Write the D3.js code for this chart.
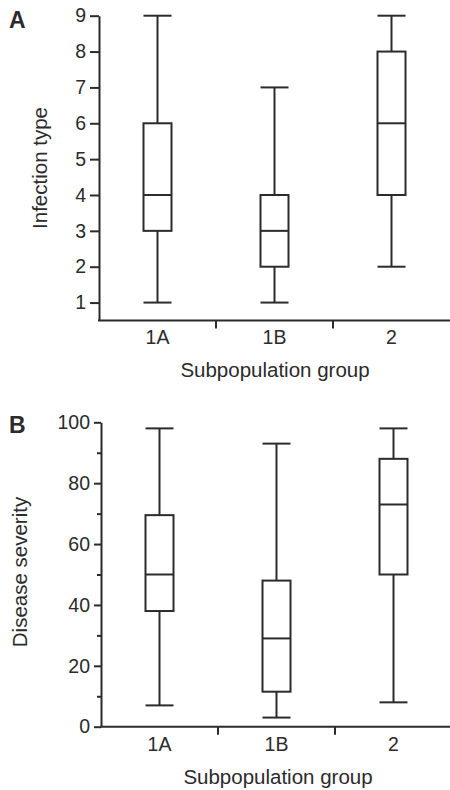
<!DOCTYPE html>
<html>
<head>
<meta charset="utf-8">
<script src="https://cdn.jsdelivr.net/npm/d3@7"></script>
<style>
    body { margin: 0; background: #fff; }
    text { font-family: "Liberation Sans", Arial, sans-serif; fill: #2b2b2b; }
    .axis path, .axis line, .x-line, .x-tick { stroke: #2b2b2b; stroke-width: 2; fill: none; }
    .box rect, .box line { stroke: #2b2b2b; stroke-width: 2; fill: none; }
</style>
</head>
<body>
<div id="chart"></div>
<script>
// subpopulation groups
const groups = ["1A", "1B", "2"];

// panel A - infection type (box stats per group)
const infectionMin = [1, 1, 2];
const infectionQ1 = [3, 2, 4];
const infectionMedian = [4, 3, 6];
const infectionQ3 = [6, 4, 8];
const infectionMax = [9, 7, 9];
const infectionTicks = [1, 2, 3, 4, 5, 6, 7, 8, 9];

// panel B - disease severity
const severityMin = [7, 3, 8];
const severityQ1 = [38, 11.5, 50];
const severityMedian = [50, 29, 73];
const severityQ3 = [69.5, 48, 88];
const severityMax = [98, 93, 98];
const severityTicks = [0, 20, 40, 60, 80, 100];
const severityMinorTicks = [10, 30, 50, 70, 90];

/* * * * * * * * * * * * * *
*       class boxVis        *
* * * * * * * * * * * * * */
class boxVis {
    constructor(svg, config) {
        this.svg = svg;
        this.config = config;

        this.initVis()
    }

    initVis() {
        let vis = this;
        let c = vis.config;

        vis.g = vis.svg.append("g");

        vis.x = d3.scaleBand()
            .domain(groups)
            .range([c.left, c.left + 351]);

        vis.y = d3.scaleLinear()
            .domain(c.yDomain)
            .range([c.bottom, c.top]);

        // join stats into rows for drawing
        vis.rows = groups.map((g, i) => ({
            group: g,
            min: c.min[i], q1: c.q1[i], median: c.median[i], q3: c.q3[i], max: c.max[i]
        }));

        vis.updateVis()
    }

    updateVis() {
        let vis = this;
        let c = vis.config;
        let boxW = 28;

        // y axis
        vis.g.append("g")
            .attr("class", "axis")
            .attr("transform", `translate(${c.left},0)`)
            .call(d3.axisLeft(vis.y).tickValues(c.ticks).tickSize(c.tickLen).tickSizeOuter(0).tickPadding(4))
            .call(g => g.selectAll("text").style("font-size", "19.5px").attr("fill", "#2b2b2b"));

        if (c.minorTicks) {
            vis.g.append("g")
                .attr("class", "axis")
                .attr("transform", `translate(${c.left},0)`)
                .call(d3.axisLeft(vis.y).tickValues(c.minorTicks).tickSize(4).tickFormat(""))
                .call(g => g.select(".domain").remove());
        }

        // x axis line + boundary ticks
        vis.g.append("line")
            .attr("class", "x-line")
            .attr("x1", c.left - 1).attr("x2", 450)
            .attr("y1", c.bottom).attr("y2", c.bottom);

        vis.g.selectAll(".x-tick")
            .data(groups.slice(1))
            .enter()
            .append("line")
            .attr("class", "x-tick")
            .attr("x1", d => vis.x(d)).attr("x2", d => vis.x(d))
            .attr("y1", c.bottom).attr("y2", c.bottom + 8);

        vis.g.append("g")
            .attr("transform", `translate(0,${c.bottom})`)
            .call(d3.axisBottom(vis.x).tickSize(0).tickPadding(10))
            .call(g => g.select(".domain").remove())
            .call(g => g.selectAll("text").style("font-size", "19.5px").attr("fill", "#2b2b2b"));

        // axis titles
        vis.g.append("text")
            .attr("x", c.xTitleX)
            .attr("y", c.xTitleY)
            .style("text-anchor", "middle")
            .style("font-size", "20.5px")
            .text("Subpopulation group");

        vis.g.append("text")
            .attr("transform", `translate(${c.yTitleX},${c.yTitleY}) rotate(-90)`)
            .style("text-anchor", "middle")
            .style("font-size", "20.5px")
            .text(c.yTitle);

        // panel letter
        vis.g.append("text")
            .attr("x", 9)
            .attr("y", c.letterY)
            .style("font-size", "23px")
            .style("font-weight", "bold")
            .attr("fill", "#111")
            .text(c.letter);

        // boxes
        let box = vis.g.selectAll(".box")
            .data(vis.rows)
            .enter()
            .append("g")
            .attr("class", "box")
            .attr("transform", d => `translate(${vis.x(d.group) + vis.x.bandwidth() / 2},0)`);

        // whiskers
        box.append("line")
            .attr("x1", 0).attr("x2", 0)
            .attr("y1", d => vis.y(d.max)).attr("y2", d => vis.y(d.q3));
        box.append("line")
            .attr("x1", 0).attr("x2", 0)
            .attr("y1", d => vis.y(d.q1)).attr("y2", d => vis.y(d.min));

        // caps
        box.append("line")
            .attr("x1", -boxW / 2).attr("x2", boxW / 2)
            .attr("y1", d => vis.y(d.max)).attr("y2", d => vis.y(d.max));
        box.append("line")
            .attr("x1", -boxW / 2).attr("x2", boxW / 2)
            .attr("y1", d => vis.y(d.min)).attr("y2", d => vis.y(d.min));

        box.append("rect")
            .attr("x", -boxW / 2)
            .attr("width", boxW)
            .attr("y", d => vis.y(d.q3))
            .attr("height", d => vis.y(d.q1) - vis.y(d.q3));

        box.append("line")
            .attr("x1", -boxW / 2).attr("x2", boxW / 2)
            .attr("y1", d => vis.y(d.median)).attr("y2", d => vis.y(d.median));
    }
}

let svg = d3.select("#chart").append("svg")
    .attr("width", 450)
    .attr("height", 790);

new boxVis(svg, {
    letter: "A", letterY: 28,
    left: 99, top: 15.7, bottom: 320.5, yDomain: [0.5, 9],
    ticks: infectionTicks, tickLen: 9,
    min: infectionMin, q1: infectionQ1, median: infectionMedian, q3: infectionQ3, max: infectionMax,
    yTitle: "Infection type", yTitleX: 47, yTitleY: 168,
    xTitleX: 275, xTitleY: 377
});

new boxVis(svg, {
    letter: "B", letterY: 433,
    left: 101, top: 422.3, bottom: 726.7, yDomain: [0, 100],
    ticks: severityTicks, minorTicks: severityMinorTicks, tickLen: 7,
    min: severityMin, q1: severityQ1, median: severityMedian, q3: severityQ3, max: severityMax,
    yTitle: "Disease severity", yTitleX: 27, yTitleY: 572,
    xTitleX: 278, xTitleY: 784
});
</script>
</body>
</html>
